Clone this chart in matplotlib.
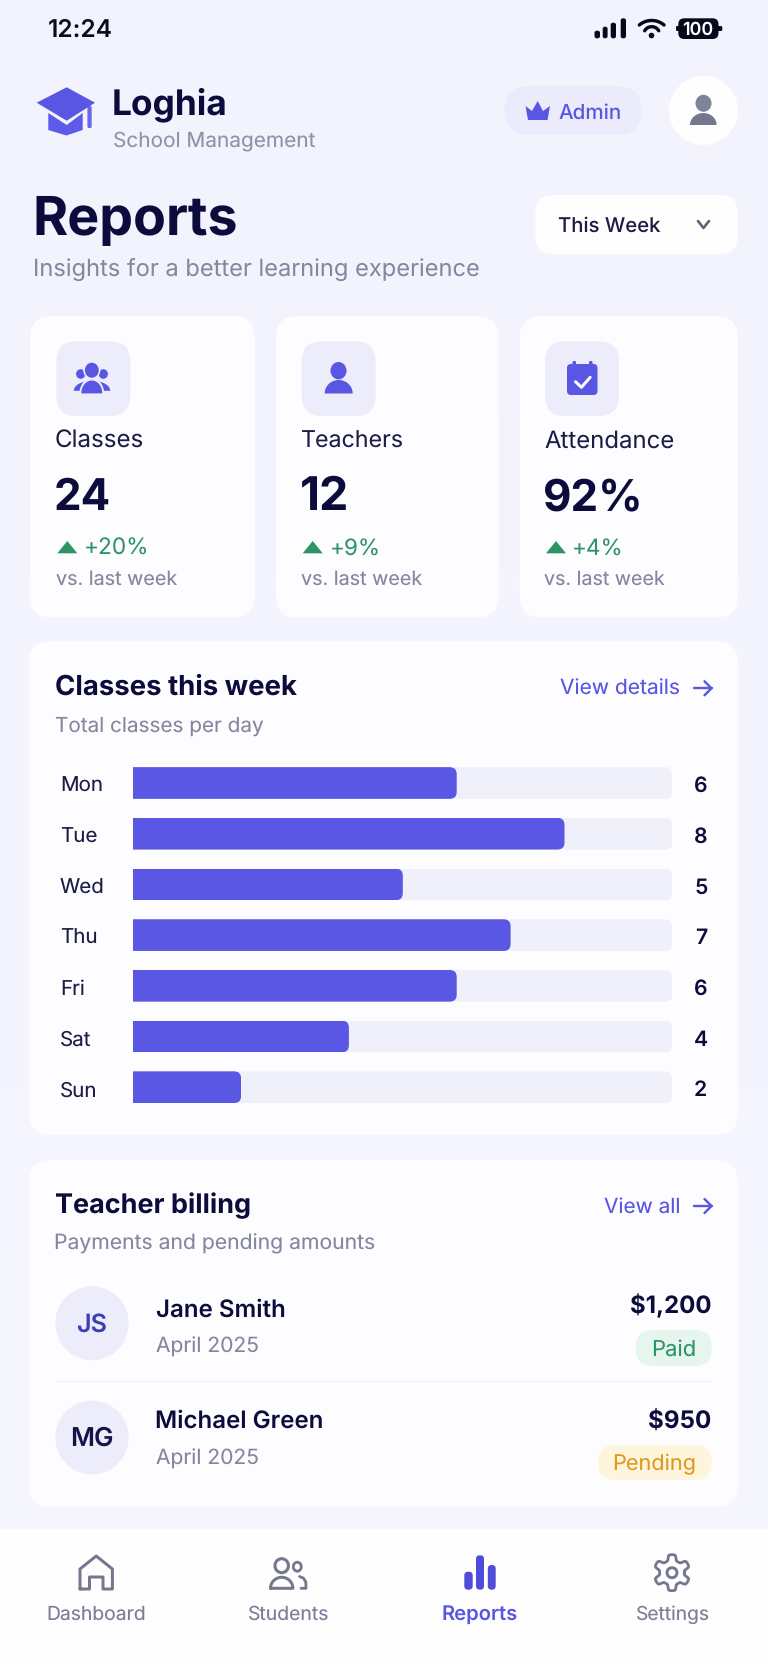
import numpy as np
import matplotlib
matplotlib.use("Agg")
import matplotlib.pyplot as plt
from matplotlib.patches import FancyBboxPatch, Ellipse, Polygon
from matplotlib.textpath import TextPath
from matplotlib.font_manager import FontProperties
from matplotlib.transforms import ScaledTranslation
from matplotlib.colors import LinearSegmentedColormap

plt.rcParams["text.hinting"] = "no_hinting"
plt.rcParams["text.hinting_factor"] = 1

# ---------- data ----------
days = ["Mon", "Tue", "Wed", "Thu", "Fri", "Sat", "Sun"]
classes_per_day = [6, 8, 5, 7, 6, 4, 2]
bar_scale_max = 10
stat_labels = ["Classes", "Teachers", "Attendance"]
stat_values = ["24", "12", "92%"]
stat_deltas = ["+20%", "+9%", "+4%"]
teacher_names = ["Jane Smith", "Michael Green"]
teacher_initials = ["JS", "MG"]
teacher_periods = ["April 2025", "April 2025"]
teacher_amounts = ["$1,200", "$950"]
teacher_status = ["Paid", "Pending"]
nav_labels = ["Dashboard", "Students", "Reports", "Settings"]

# ---------- colours ----------
BG = "#F4F4FE"; CARD = "#FDFDFF"; INK = "#0C0C3C"; INK2 = "#1C1C46"
GREY = "#85879F"; ACC = "#5856E3"; SOFT = "#ECECFB"; GREEN = "#2E9467"

W, H = 768, 1664
fig = plt.figure(figsize=(W / 100, H / 100), dpi=100, facecolor=BG)
ax = fig.add_axes([0, 0, 1, 1])
grad = LinearSegmentedColormap.from_list("bg", ["#F2F3FD", "#F6F6FF"])
ax.imshow(np.linspace(0, 1, 64).reshape(-1, 1), cmap=grad, aspect="auto",
          extent=(0, W, H, 0), zorder=0)
ax.set_xlim(0, W); ax.set_ylim(H, 0); ax.axis("off")
FAM = "Inter"


def T(x0, x1, y, s, color, weight=400, z=5):
    """Text whose ink spans x0..x1, sitting on baseline y (pixels)."""
    fp = FontProperties(family=FAM, weight=weight)
    bb = TextPath((0, 0), s, size=100, prop=fp).get_extents()
    k = (x1 - x0) / bb.width
    return ax.text(x0 - bb.x0 * k, y, s, color=color, ha="left", va="baseline",
                   fontproperties=fp, fontsize=100 * k * 0.72, zorder=z)


def RR(x0, y0, x1, y1, r, color, z=1):
    p = FancyBboxPatch((x0, y0), x1 - x0, y1 - y0,
                       boxstyle=f"round,pad=0,rounding_size={r}",
                       fc=color, ec="none", zorder=z)
    ax.add_patch(p)
    return p


def E(cx, cy, rx, ry, color, z=3):
    ax.add_patch(Ellipse((cx, cy), 2 * rx, 2 * ry, fc=color, ec="none", zorder=z))


def dome(x0, x1, ytop, ybot, color, z=3):
    t = np.linspace(np.pi, 2 * np.pi, 40)
    cx, rx = (x0 + x1) / 2, (x1 - x0) / 2
    ry = ybot - ytop
    pts = np.c_[cx + rx * np.cos(t), ybot + ry * np.sin(t)]
    ax.add_patch(Polygon(pts, closed=True, fc=color, ec="none", zorder=z))


def P(pts, color, z=3):
    ax.add_patch(Polygon(pts, closed=True, fc=color, ec="none", zorder=z, joinstyle="round"))


def L(xs, ys, color, lw=3, z=3):
    ax.plot(xs, ys, color=color, lw=lw * 0.72, solid_capstyle="round",
            solid_joinstyle="round", zorder=z)


def arrow(x0, x1, y, color):
    L([x0, x1], [y, y], color, 2.4)
    L([x1 - 7, x1, x1 - 7], [y - 7, y, y + 7], color, 2.4)


# ---------- status bar ----------
T(49, 111.7, 36.7, "12:24", "#0B0B1E", 600)
for x0, x1, top in [(594.5, 600, 30.7), (602.7, 607.6, 26.7), (610.7, 616, 22.7), (620.7, 626, 18.3)]:
    RR(x0, top, x1, 38.3, 2.2, "#08081C")
for cy, r, half in [(39.7, 19.2, 40), (34.8, 8.1, 60)]:
    t = np.linspace(np.radians(270 - half), np.radians(270 + half), 30)
    L(651.7 + r * np.cos(t), cy + r * np.sin(t), "#08081C", 3.4)
E(651.5, 35.5, 2.8, 2.8, "#08081C")
RR(678.3, 18.3, 718.5, 39, 6, "#08081C")
RR(676, 26, 680, 31, 1.2, "#08081C")
RR(717, 26, 722.3, 31, 1.5, "#08081C")
T(683.5, 713, 34.4, "100", "#FFFFFF", 600)

# ---------- header ----------
P([(48.3, 113), (66.7, 125), (82.7, 113), (82.7, 130), (66.4, 135.5), (48.3, 130)], "#5E5BE8")
P([(66.7, 87.3), (95, 102.7), (66.7, 120.7), (36.7, 102.7)], "#5856E3", z=4)
RR(87.4, 106, 91.7, 128, 1.5, "#6A68EA", z=3)
T(114, 225.3, 114.6, "Loghia", INK, 700)
T(114, 315, 146.7, "School Management", "#9092A9")

RR(504.5, 86, 641.6, 135, 24.5, "#EBEBFB")
P([(528, 120), (547.5, 120), (550, 106), (543, 111), (537.7, 101), (532, 111), (525.5, 106)], ACC)
T(559.3, 620.6, 119, "Admin", ACC, 500)
E(703.5, 110.5, 34.5, 34.5, "#FEFEFF", z=1)
E(703.5, 103.3, 8, 8.5, "#7F8299")
dome(690, 716.6, 113, 125, "#74768F")

T(36.5, 236.6, 235.3, "Reports", INK, 700)
T(35.5, 479, 276, "Insights for a better learning experience", GREY)
RR(535.5, 195, 737.5, 254, 17, "#FEFEFF")
T(558.4, 659.8, 232, "This Week", INK2, 500)
L([698, 703.5, 709], [221, 228, 221], "#5F617C", 2.6)

# ---------- stat cards ----------
card_x = [(30, 254.7), (276, 498.6), (519.7, 738)]
content_x = [56.3, 301.7, 545]
label_x1 = [143, 402.6, 673.5]
value_x1 = [109.2, 346.8, 639.7]
delta_x = [(86.2, 147), (331.6, 378), (574, 621)]
vs_x1 = [176.8, 422.2, 665]
for i in range(3):
    RR(card_x[i][0], 316, card_x[i][1], 617.7, 22, CARD)
    c = content_x[i]
    RR(c, 341.3, c + 74, 416, 20, SOFT)
    T(c, label_x1[i], 447.8, stat_labels[i], INK2, 400)
    T(c + (0.4 if i == 1 else 0), value_x1[i], 510, stat_values[i], INK, 700)
    P([(c + 1, 553.3), (c + 21, 553.3), (c + 11, 541)], GREEN)
    T(delta_x[i][0], delta_x[i][1], 555, stat_deltas[i], GREEN, 400)
    T(c, vs_x1[i], 585, "vs. last week", GREY)

# classes icon
E(80.7, 374, 4.6, 4.8, ACC); E(103.3, 374, 4.6, 4.8, ACC)
dome(73.8, 110.2, 380.7, 390.8, ACC, z=3)
dome(79, 104.6, 377.5, 396, SOFT, z=3.1)
E(91.8, 370.2, 8.6, 9.2, SOFT, z=3.1)
E(91.8, 370.2, 6.9, 7.5, ACC, z=3.2)
dome(81.3, 102.3, 380.5, 393.4, ACC, z=3.2)
# teacher icon
E(338.5, 370.7, 8, 8.7, ACC)
dome(324.7, 352.7, 380, 393.5, ACC)
# attendance icon
RR(567, 364, 597.5, 395, 4, ACC)
RR(572.5, 361, 576, 367, 1.2, ACC); RR(589, 361, 592.5, 367, 1.2, ACC)
L([575.5, 581.4, 590.2], [381.7, 387.3, 377.3], "#FFFFFF", 3, z=4)

# ---------- chart card ----------
RR(29, 641, 738, 1135, 22, CARD)
T(56.3, 296.8, 695, "Classes this week", INK, 700)
T(56.3, 263.5, 731.7, "Total classes per day", GREY)
T(560.8, 679.3, 695, "View details", ACC)
arrow(694, 711.5, 688.3, ACC)

top, step = 757.65, 50.7
left, width = 133.3, 539.0
height = step * len(days)
bx = fig.add_axes([left / W, 1 - (top + height) / H, width / W, height / H], facecolor="none")
y_pos = np.arange(len(days))
bx.set_xlim(0, bar_scale_max); bx.set_ylim(len(days) - 0.5, -0.5)
bar_h = 0.625
px_x = bar_scale_max / width; px_y = len(days) / height


def rounded_clip(end, yc, r_px=7):
    p = FancyBboxPatch((-1, yc - bar_h / 2), end + 1, bar_h,
                       boxstyle=f"round,pad=0,rounding_size={r_px * px_x}",
                       mutation_aspect=px_y / px_x)
    p.set_transform(bx.transData)
    return p


tracks = bx.barh(y_pos, [bar_scale_max] * len(days), height=bar_h, color="#F0F0FB", zorder=1)
bars = bx.barh(y_pos, classes_per_day, height=bar_h, color="#5957E3", zorder=2)
for rect, yc in zip(tracks, y_pos):
    rect.set_clip_path(rounded_clip(bar_scale_max, yc))
for rect, yc, v in zip(bars, y_pos, classes_per_day):
    rect.set_clip_path(rounded_clip(v, yc))
    bx.annotate(str(v), xy=(bar_scale_max, yc), xytext=(28.5 * 0.72, -1.3 * 0.72), textcoords="offset points",
                ha="center", va="center_baseline", family=FAM, fontsize=15.3, color=INK, weight=600,
                annotation_clip=False)
bx.set_yticks(y_pos, days, family=FAM, fontsize=14.8, color=INK2)
bx.tick_params(axis="y", length=0, pad=(left - 60) * 0.72)
bx.set_xticks([])
for lab in bx.get_yticklabels():
    lab.set_ha("left")
    lab.set_transform(lab.get_transform() + ScaledTranslation(0, -1.6 / 100, fig.dpi_scale_trans))
for s in bx.spines.values():
    s.set_visible(False)

# ---------- billing card ----------
RR(29, 1160, 738, 1507, 22, CARD)
T(56.3, 249.8, 1213.3, "Teacher billing", INK, 700)
T(56.3, 374.7, 1249.3, "Payments and pending amounts", GREY)
T(605, 679.3, 1213, "View all", ACC)
arrow(694, 711.5, 1206, ACC)
L([56, 711.7], [1380.7, 1380.7], "#F1F1F7", 1.2)

row_cy = [1323.3, 1437.5]
init_x = [(77.4, 106.3), (72.5, 112.7)]
init_base = [1332, 1446]
init_col = ["#3D3BB5", "#14144A"]
name_x1 = [284, 321.8]
name_base = [1316.7, 1427.8]
date_base = [1352.7, 1465]
amt_x0 = [630.8, 649]
amt_base = [1313.3, 1428.3]
pill_x0 = [635.7, 598]
pill_y = [(1330, 1366), (1445, 1480)]
pill_col = ["#E6F5EE", "#FFF4DC"]
stat_col = [GREEN, "#DE9B1E"]
stat_x0 = [652.9, 614]
stat_base = [1355.7, 1470]
for i in range(2):
    E(92, row_cy[i], 36.7, 36.9, SOFT, z=2)
    T(init_x[i][0], init_x[i][1], init_base[i], teacher_initials[i], init_col[i], 600)
    T(156.7, name_x1[i], name_base[i], teacher_names[i], INK, 600)
    T(156.7, 258, date_base[i], teacher_periods[i], GREY)
    T(amt_x0[i], 710.2, amt_base[i], teacher_amounts[i], INK, 700)
    RR(pill_x0[i], pill_y[i][0], 711.7, pill_y[i][1], 17.5, pill_col[i])
    T(stat_x0[i], 694.5, stat_base[i], teacher_status[i], stat_col[i], 400)

# ---------- tab bar ----------
ax.add_patch(plt.Rectangle((0, 1529.3), W, H - 1529.3, fc="#FEFEFF", ec="none", zorder=1))
nav_x = [(48, 144.5), (248.3, 327.7), (442.8, 516.7), (635.7, 707.7)]
for i, s in enumerate(nav_labels):
    active = s == "Reports"
    T(nav_x[i][0], nav_x[i][1], 1620, s, ACC if active else "#7D7F98", 600 if active else 400)
NAV = "#75778F"
# home
L([80, 80, 96.2, 112.4, 112.4, 103, 103, 89.5, 89.5, 80],
  [1589, 1569, 1556, 1569, 1589, 1589, 1577, 1577, 1589, 1589], NAV, 3)
# students
ax.add_patch(Ellipse((281.7, 1565.7), 13.5, 14, fc="none", ec=NAV, lw=2.2, zorder=3))
ax.add_patch(Ellipse((297.3, 1566.7), 8, 9, fc="none", ec=NAV, lw=2.0, zorder=3))
t = np.linspace(np.pi, 2 * np.pi, 30)
L(np.r_[281.7 + 11.2 * np.cos(t), 270.5], np.r_[1588.3 + 11 * np.sin(t), 1588.3], NAV, 3)
L([299.5, 303.5, 305.8, 306, 301], [1576.5, 1578.2, 1582, 1588.3, 1588.3], NAV, 2.8)
# reports
for x0, x1, y0 in [(464.3, 472.7, 1571.7), (476, 484, 1555.3), (487.8, 495.7, 1565)]:
    RR(x0, y0, x1, 1589.7, 3.8, "#4F4CDB")
# gear
ang = np.linspace(0, 2 * np.pi, 241)
rg = 15.2 + 2.9 * np.tanh(2.4 * np.cos(6 * (ang + np.pi / 2)))
L(672 + rg * np.cos(ang), 1572.7 + rg * np.sin(ang), NAV, 2.8)
ax.add_patch(Ellipse((672, 1572.7), 10, 10, fc="none", ec=NAV, lw=2.1, zorder=3))

fig.savefig("out.png", dpi=100, facecolor=BG)
